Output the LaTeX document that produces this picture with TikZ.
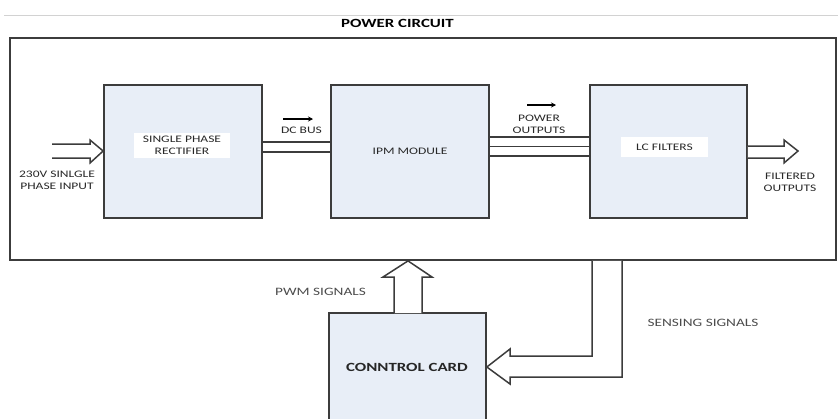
\documentclass[tikz,border=0pt]{standalone}
\usepackage{fontspec}
\setmainfont{Carlito}[FakeStretch=1.35]
\usetikzlibrary{arrows.meta}
\definecolor{boxfill}{RGB}{232,238,247}
\definecolor{linegray}{RGB}{60,60,60}
\definecolor{txtgray}{RGB}{40,40,40}
\tikzset{
  blockbox/.style={draw=linegray, line width=1.7pt, fill=boxfill, inner sep=0pt},
  framebox/.style={draw=linegray, line width=1.7pt, inner sep=0pt},
  wirelink/.style={draw=linegray, line width=1.4pt},
  hollowarrow/.style={draw=linegray, line width=1.5pt, fill=white, line join=miter},
  smalllabel/.style={font=\fontsize{10}{12}\selectfont, text=txtgray, align=center, inner sep=0pt},
  sidelabel/.style={font=\fontsize{11.3}{13}\selectfont, text=black!70, align=center, inner sep=0pt},
  whitetag/.style={fill=white, inner sep=0pt, align=center, font=\fontsize{10}{12}\selectfont, text=txtgray},
  dirarrow/.style={draw=black, line width=1.4pt, -{Stealth[length=5pt,width=5pt]}}
}
\begin{document}
\begin{tikzpicture}[x=1pt,y=-1pt]
\useasboundingbox (0,0) rectangle (838,418);
\clip (0,0) rectangle (838,418);
\fill[white] (0,0) rectangle (838,418);
% top rule
\draw[gray!35, line width=0.8pt] (4,15) -- (838,15);
\node[font=\fontsize{12.5}{14}\selectfont\bfseries, inner sep=0pt] (title) at (397.5,23) {POWER CIRCUIT};
% outer frame
\node[framebox, minimum width=826pt, minimum height=222pt] (power) at (423,149) {};
% blocks
\node[blockbox, minimum width=158pt, minimum height=133pt] (rect) at (183,151.5) {};
\node[blockbox, minimum width=158pt, minimum height=133pt] (ipm) at (410,151.5) {};
\node[blockbox, minimum width=157pt, minimum height=133pt] (lc) at (668.5,151.5) {};
\node[blockbox, minimum width=157pt, minimum height=127pt] (ctrl) at (407.5,376.5) {};
% block labels
\node[whitetag, minimum width=96pt, minimum height=25pt] (rectlbl) at (182,145.5) {SINGLE PHASE\\RECTIFIER};
\node[smalllabel] (ipmlbl) at (410,151) {IPM MODULE};
\node[whitetag, minimum width=87pt, minimum height=20pt] (lclbl) at (664.5,147) {LC FILTERS};
\node[font=\fontsize{12.5}{14}\selectfont\bfseries, text=black!85, inner sep=0pt] (ctrllbl) at (407,367) {CONNTROL CARD};
% DC bus
\draw[wirelink] (rect.east|-0,142) -- (ipm.west|-0,142);
\draw[wirelink] (rect.east|-0,152) -- (ipm.west|-0,152);
\coordinate (dcA) at (283,119);
\coordinate (dcB) at (313,119);
\draw[dirarrow] (dcA) -- (dcB);
\node[smalllabel] (dclbl) at (301.5,130) {DC BUS};
% power outputs
\draw[wirelink] (ipm.east|-0,137) -- (lc.west|-0,137);
\draw[wirelink] (ipm.east|-0,146.5) -- (lc.west|-0,146.5);
\draw[wirelink] (ipm.east|-0,156) -- (lc.west|-0,156);
\coordinate (poA) at (527,105);
\coordinate (poB) at (556,105);
\draw[dirarrow] (poA) -- (poB);
\node[smalllabel] (polbl) at (539,124) {POWER\\OUTPUTS};
% input arrow
\draw[hollowarrow] (52,144) -- (90,144) -- (90,140) -- (rect.west|-0,151) -- (90,163) -- (90,158) -- (52,158);
\node[smalllabel] (inlbl) at (57,180) {230V SINLGLE\\PHASE INPUT};
% output arrow
\draw[hollowarrow] (lc.east|-0,146) -- (784,146) -- (784,140) -- (798,151) -- (784,163) -- (784,158) -- (lc.east|-0,158);
\node[smalllabel] (outlbl) at (790,182) {FILTERED\\OUTPUTS};
% PWM arrow
\draw[hollowarrow] (394,313) -- (394,277) -- (383,277) -- (408,260.9) -- (432,277) -- (422,277) -- (422,313);
\node[sidelabel] (pwmlbl) at (320.5,292) {PWM SIGNALS};
% sensing arrow
\draw[hollowarrow] (592,260.9) -- (592,356) -- (510,356) -- (510,349) -- (ctrl.east|-0,367) -- (510,384) -- (510,377) -- (622,377) -- (622,260.9);
\node[sidelabel] (senslbl) at (703,323) {SENSING SIGNALS};
\end{tikzpicture}
\end{document}
